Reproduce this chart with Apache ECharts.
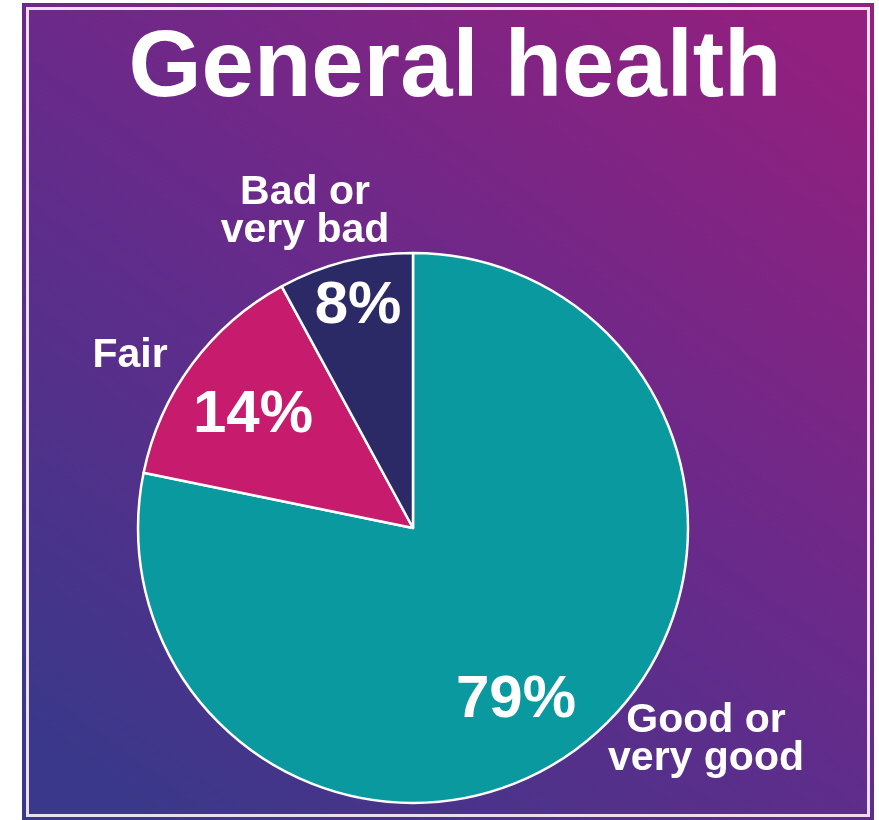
<!DOCTYPE html>
<html>
<head>
<meta charset="utf-8">
<script src="https://cdn.jsdelivr.net/npm/echarts@6/dist/echarts.min.js"></script>
<style>
html,body{margin:0;padding:0;background:#fff;}
#chart{width:879px;height:820px;}
</style>
</head>
<body>
<div id="chart"></div>
<script>
// ---- data ----
var titleText = 'General health';
var categories = ['Good or\nvery good', 'Fair', 'Bad or\nvery bad'];
var values = [79, 14, 8];
var sliceColors = ['#0A999F', '#C71C6D', '#2C2A66'];

// ---- label layout (positions of text, not data) ----
var innerLabelPos = [[516, 700], [253, 415], [358, 306]];
var outerLabelPos = [[706, 740], [130, 356], [305, 212]];

var FONT = '"Liberation Sans", Arial, Helvetica, sans-serif';

var chart = echarts.init(document.getElementById('chart'), null, {renderer: 'canvas'});

var pieData = categories.map(function (c, i) {
  return {name: c, value: values[i], itemStyle: {color: sliceColors[i]}};
});
var ghostData = categories.map(function (c, i) {
  return {name: c, value: values[i]};
});

var option = {
  backgroundColor: '#ffffff',
  animation: false,
  graphic: [
    {
      type: 'rect', z: -10, silent: true,
      shape: {x: 22, y: 3, width: 852, height: 817},
      style: {
        fill: new echarts.graphic.LinearGradient(0.15, 1, 0.85, 0, [
          {offset: 0, color: '#3A388A'},
          {offset: 0.5, color: '#652B8B'},
          {offset: 1, color: '#91207F'}
        ])
      }
    },
    {
      type: 'rect', z: -9, silent: true,
      shape: {x: 27.5, y: 8.5, width: 841, height: 807},
      style: {fill: 'none', stroke: 'rgba(255,240,255,0.9)', lineWidth: 3}
    }
  ],
  title: {
    text: titleText,
    left: 450,
    top: 18,
    textAlign: 'center',
    textStyle: {
      color: '#ffffff',
      fontFamily: FONT,
      fontWeight: 'bold',
      fontSize: 94
    }
  },
  series: [
    {
      type: 'pie',
      center: [413, 528],
      radius: [0, 275],
      startAngle: 90,
      clockwise: true,
      silent: true,
      itemStyle: {borderColor: '#ffffff', borderWidth: 2.5},
      label: {
        show: true,
        position: 'inside',
        formatter: '{c}%',
        color: '#ffffff',
        fontFamily: FONT,
        fontWeight: 'bold',
        fontSize: 60
      },
      labelLine: {show: false},
      labelLayout: function (p) {
        var pos = innerLabelPos[p.dataIndex];
        return {x: pos[0], y: pos[1], align: 'center', verticalAlign: 'middle'};
      },
      data: pieData
    },
    {
      type: 'pie',
      center: [413, 528],
      radius: [0, 275],
      startAngle: 90,
      clockwise: true,
      silent: true,
      z: 1,
      itemStyle: {color: 'rgba(0,0,0,0)', borderWidth: 0},
      label: {
        show: true,
        position: 'outside',
        formatter: '{b}',
        color: '#ffffff',
        fontFamily: FONT,
        fontWeight: 'bold',
        fontSize: 41,
        lineHeight: 38,
        align: 'center'
      },
      labelLine: {show: false},
      labelLayout: function (p) {
        var pos = outerLabelPos[p.dataIndex];
        return {x: pos[0], y: pos[1], align: 'center', verticalAlign: 'middle'};
      },
      data: ghostData
    }
  ]
};
chart.setOption(option);
</script>
</body>
</html>
